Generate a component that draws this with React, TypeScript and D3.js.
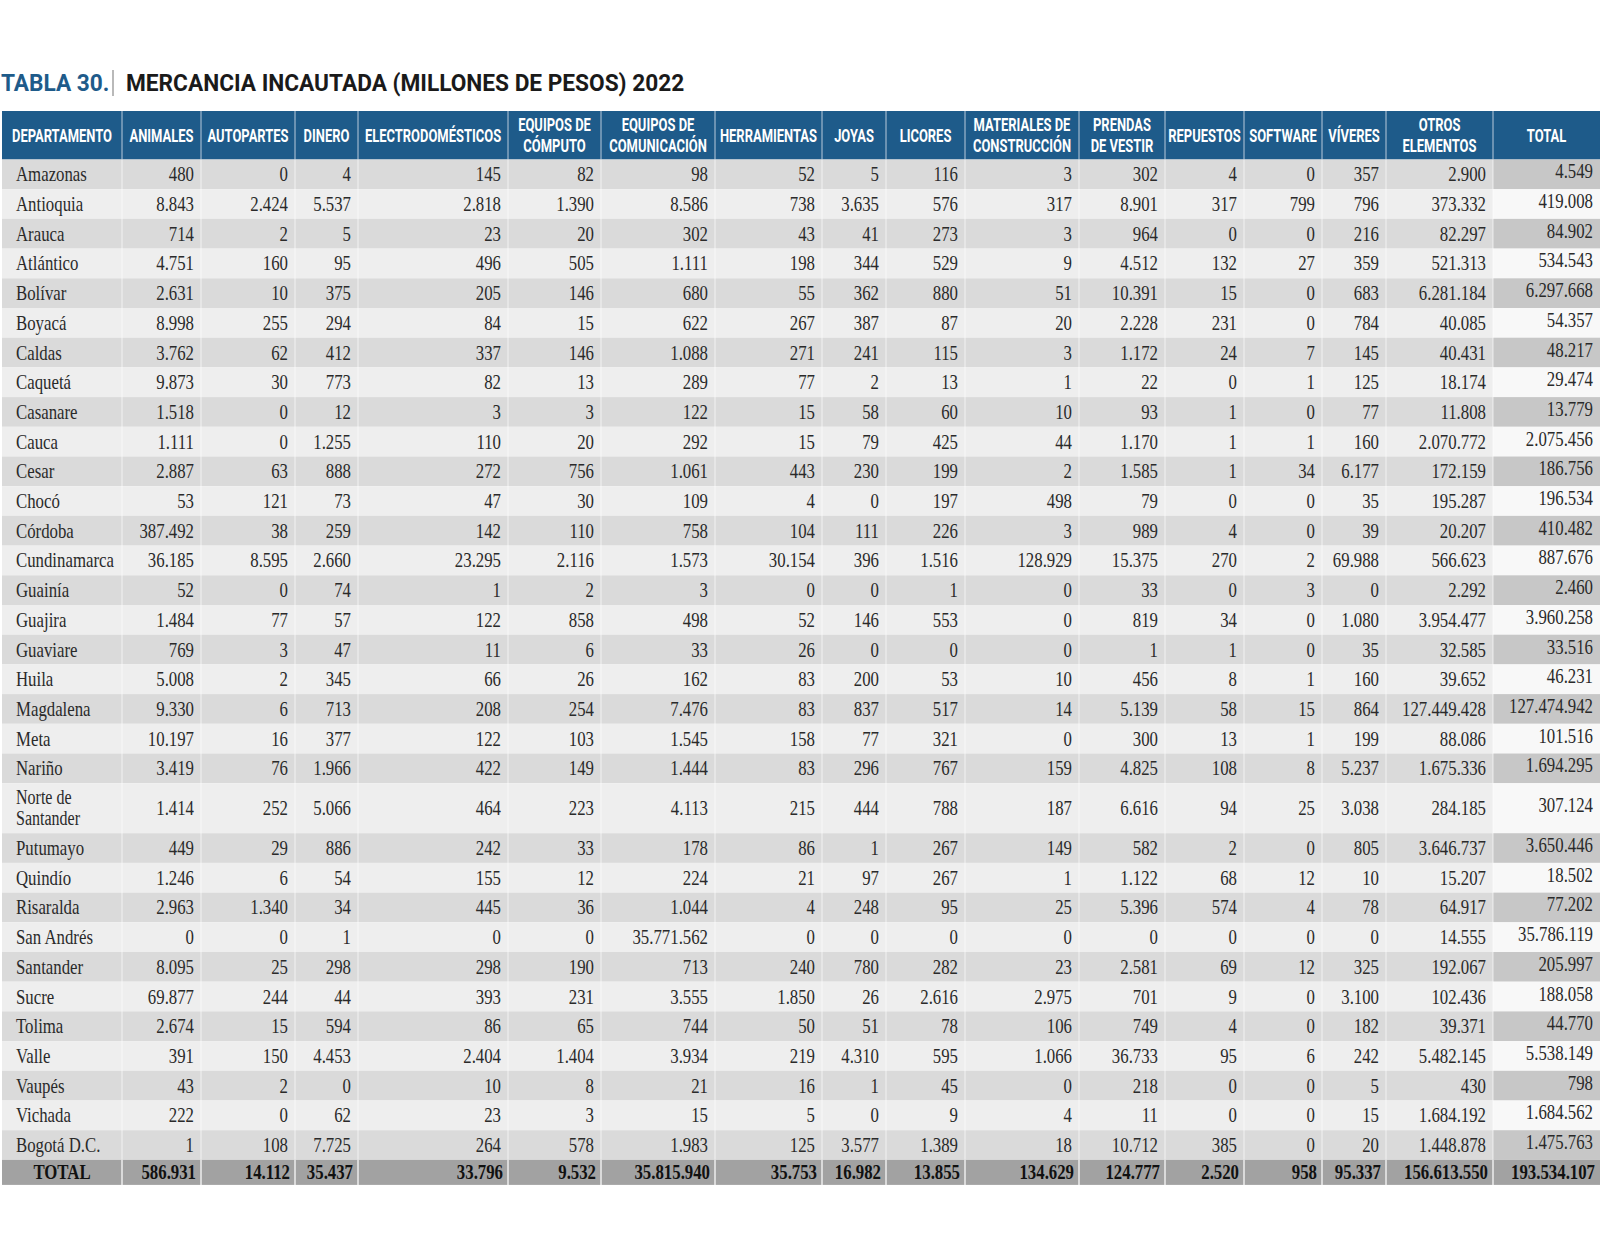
import React from "react";
import * as d3 from "d3";

const departamentos = [
  "Amazonas", "Antioquia", "Arauca", "Atlántico", "Bolívar", "Boyacá", "Caldas", "Caquetá", "Casanare", "Cauca",
  "Cesar", "Chocó", "Córdoba", "Cundinamarca", "Guainía", "Guajira", "Guaviare", "Huila", "Magdalena", "Meta",
  "Nariño", "Norte de Santander", "Putumayo", "Quindío", "Risaralda", "San Andrés", "Santander", "Sucre", "Tolima",
  "Valle", "Vaupés", "Vichada", "Bogotá D.C.",
];

const headers = [
  ["DEPARTAMENTO"], ["ANIMALES"], ["AUTOPARTES"], ["DINERO"], ["ELECTRODOMÉSTICOS"], ["EQUIPOS DE", "CÓMPUTO"],
  ["EQUIPOS DE", "COMUNICACIÓN"], ["HERRAMIENTAS"], ["JOYAS"], ["LICORES"], ["MATERIALES DE", "CONSTRUCCIÓN"],
  ["PRENDAS", "DE VESTIR"], ["REPUESTOS"], ["SOFTWARE"], ["VÍVERES"], ["OTROS", "ELEMENTOS"], ["TOTAL"],
];

const animales = [480, 8843, 714, 4751, 2631, 8998, 3762, 9873, 1518, 1111, 2887, 53, 387492, 36185, 52, 1484, 769, 5008, 9330, 10197, 3419, 1414, 449, 1246, 2963, 0, 8095, 69877, 2674, 391, 43, 222, 1];
const autopartes = [0, 2424, 2, 160, 10, 255, 62, 30, 0, 0, 63, 121, 38, 8595, 0, 77, 3, 2, 6, 16, 76, 252, 29, 6, 1340, 0, 25, 244, 15, 150, 2, 0, 108];
const dinero = [4, 5537, 5, 95, 375, 294, 412, 773, 12, 1255, 888, 73, 259, 2660, 74, 57, 47, 345, 713, 377, 1966, 5066, 886, 54, 34, 1, 298, 44, 594, 4453, 0, 62, 7725];
const electrodomesticos = [145, 2818, 23, 496, 205, 84, 337, 82, 3, 110, 272, 47, 142, 23295, 1, 122, 11, 66, 208, 122, 422, 464, 242, 155, 445, 0, 298, 393, 86, 2404, 10, 23, 264];
const equiposComputo = [82, 1390, 20, 505, 146, 15, 146, 13, 3, 20, 756, 30, 110, 2116, 2, 858, 6, 26, 254, 103, 149, 223, 33, 12, 36, 0, 190, 231, 65, 1404, 8, 3, 578];
const equiposComunicacion = [98, 8586, 302, 1111, 680, 622, 1088, 289, 122, 292, 1061, 109, 758, 1573, 3, 498, 33, 162, 7476, 1545, 1444, 4113, 178, 224, 1044, 35771562, 713, 3555, 744, 3934, 21, 15, 1983];
const herramientas = [52, 738, 43, 198, 55, 267, 271, 77, 15, 15, 443, 4, 104, 30154, 0, 52, 26, 83, 83, 158, 83, 215, 86, 21, 4, 0, 240, 1850, 50, 219, 16, 5, 125];
const joyas = [5, 3635, 41, 344, 362, 387, 241, 2, 58, 79, 230, 0, 111, 396, 0, 146, 0, 200, 837, 77, 296, 444, 1, 97, 248, 0, 780, 26, 51, 4310, 1, 0, 3577];
const licores = [116, 576, 273, 529, 880, 87, 115, 13, 60, 425, 199, 197, 226, 1516, 1, 553, 0, 53, 517, 321, 767, 788, 267, 267, 95, 0, 282, 2616, 78, 595, 45, 9, 1389];
const materiales = [3, 317, 3, 9, 51, 20, 3, 1, 10, 44, 2, 498, 3, 128929, 0, 0, 0, 10, 14, 0, 159, 187, 149, 1, 25, 0, 23, 2975, 106, 1066, 0, 4, 18];
const prendas = [302, 8901, 964, 4512, 10391, 2228, 1172, 22, 93, 1170, 1585, 79, 989, 15375, 33, 819, 1, 456, 5139, 300, 4825, 6616, 582, 1122, 5396, 0, 2581, 701, 749, 36733, 218, 11, 10712];
const repuestos = [4, 317, 0, 132, 15, 231, 24, 0, 1, 1, 1, 0, 4, 270, 0, 34, 1, 8, 58, 13, 108, 94, 2, 68, 574, 0, 69, 9, 4, 95, 0, 0, 385];
const software = [0, 799, 0, 27, 0, 0, 7, 1, 0, 1, 34, 0, 0, 2, 3, 0, 0, 1, 15, 1, 8, 25, 0, 12, 4, 0, 12, 0, 0, 6, 0, 0, 0];
const viveres = [357, 796, 216, 359, 683, 784, 145, 125, 77, 160, 6177, 35, 39, 69988, 0, 1080, 35, 160, 864, 199, 5237, 3038, 805, 10, 78, 0, 325, 3100, 182, 242, 5, 15, 20];
const otros = [2900, 373332, 82297, 521313, 6281184, 40085, 40431, 18174, 11808, 2070772, 172159, 195287, 20207, 566623, 2292, 3954477, 32585, 39652, 127449428, 88086, 1675336, 284185, 3646737, 15207, 64917, 14555, 192067, 102436, 39371, 5482145, 430, 1684192, 1448878];
const totales = [4549, 419008, 84902, 534543, 6297668, 54357, 48217, 29474, 13779, 2075456, 186756, 196534, 410482, 887676, 2460, 3960258, 33516, 46231, 127474942, 101516, 1694295, 307124, 3650446, 18502, 77202, 35786119, 205997, 188058, 44770, 5538149, 798, 1684562, 1475763];

const filaTotal = [586931, 14112, 35437, 33796, 9532, 35815940, 35753, 16982, 13855, 134629, 124777, 2520, 958, 95337, 156613550, 193534107];

const columnas = [animales, autopartes, dinero, electrodomesticos, equiposComputo, equiposComunicacion, herramientas, joyas, licores, materiales, prendas, repuestos, software, viveres, otros, totales];

// layout
const W = 1600, H = 1245;
const colEdges = [2, 122, 201, 295, 358, 508, 601, 715, 822, 886, 965, 1079, 1165, 1244, 1322, 1386, 1493, 1600];
const headerTop = 111, headerBottom = 159.5;
const rowH = 29.7, tallRowH = 50, totalRowH = 25;
const BLUE = "#1e5b8a";

const fmt = d3.formatLocale({ decimal: ",", thousands: ".", grouping: [3], currency: ["$", ""] }).format(",d");

export default function App() {
  const heights = departamentos.map((d) => (d === "Norte de Santander" ? tallRowH : rowH));
  const tops: number[] = [];
  let acc = headerBottom;
  heights.forEach((h) => { tops.push(acc); acc += h; });
  const totalTop = acc;

  const serif = "'Liberation Serif', 'Times New Roman', serif";
  const sans = "Roboto, 'Liberation Sans', sans-serif";
  const SX = 0.8;
  const HX = 0.72;

  return (
    <svg width={W} height={H} style={{ position: "absolute", left: 0, top: 0, background: "#fff" }}>
      {/* title */}
      <text transform={`translate(1,91) scale(0.945,1)`} fontFamily={sans} fontWeight={700} fontSize={24} fill={BLUE}>TABLA 30.</text>
      <line x1={113} x2={113} y1={70} y2={96} stroke="#8a8a8a" strokeWidth={1.2} />
      <text transform={`translate(126,91) scale(0.945,1)`} fontFamily={sans} fontWeight={700} fontSize={24} fill="#1a1a1a">MERCANCIA INCAUTADA (MILLONES DE PESOS) 2022</text>

      {/* header */}
      <rect x={colEdges[0]} y={headerTop} width={W - colEdges[0]} height={headerBottom - headerTop} fill={BLUE} />
      {headers.map((lines, i) => {
        const cx = (colEdges[i] + colEdges[i + 1]) / 2;
        const mid = (headerTop + headerBottom) / 2;
        const baselines = lines.length === 1 ? [mid + 6.5] : [mid - 4, mid + 17];
        return (
          <g key={"h" + i}>
            {lines.map((t, j) => (
              <text key={j} transform={`translate(${cx},${baselines[j]}) scale(${HX},1)`} textAnchor="middle"
                fontFamily={sans} fontWeight={700} fontSize={18} fill="#fff">{t}</text>
            ))}
          </g>
        );
      })}
      {colEdges.slice(1, -1).map((x, i) => (
        <line key={"hs" + i} x1={x} x2={x} y1={headerTop} y2={headerBottom} stroke="#b9cbdb" strokeWidth={1} />
      ))}

      {/* body rows */}
      {departamentos.map((dep, r) => {
        const y0 = tops[r];
        const h = heights[r];
        const dark = r % 2 === 0;
        const cy = y0 + h / 2;
        return (
          <g key={"r" + r}>
            <rect x={colEdges[0]} y={y0} width={colEdges[16] - colEdges[0]} height={h} fill={dark ? "#dadada" : "#eeeeee"} />
            <rect x={colEdges[16]} y={y0} width={W - colEdges[16]} height={h} fill={dark ? "#c7c7c7" : "#f8f8f8"} />
            {dep === "Norte de Santander" ? (
              <>
                <text transform={`translate(16,${cy - 4})  scale(${SX},1)`} fontFamily={serif} fontSize={20} fill="#2a2a2a">Norte de</text>
                <text transform={`translate(16,${cy + 17}) scale(${SX},1)`} fontFamily={serif} fontSize={20} fill="#2a2a2a">Santander</text>
              </>
            ) : (
              <text transform={`translate(16,${cy + 7}) scale(${SX},1)`} fontFamily={serif} fontSize={21} fill="#2a2a2a">{dep}</text>
            )}
            {columnas.map((col, c) => (
              <text key={c} transform={`translate(${colEdges[c + 2] - 7},${cy + 7 - (c === 15 ? 3 : 0)}) scale(${SX},1)`}
                textAnchor="end" fontFamily={serif} fontSize={21} fill="#2a2a2a">{fmt(col[r])}</text>
            ))}
          </g>
        );
      })}
      {colEdges.slice(1, -1).map((x, i) => (
        <line key={"bs" + i} x1={x} x2={x} y1={headerBottom} y2={totalTop} stroke="#ffffff" strokeOpacity={0.55} strokeWidth={1.2} />
      ))}

      {/* total row */}
      <rect x={colEdges[0]} y={totalTop} width={W - colEdges[0]} height={totalRowH} fill="#a2a2a2" />
      <text transform={`translate(${(colEdges[0] + colEdges[1]) / 2},${totalTop + totalRowH / 2 + 7}) scale(${SX},1)`} textAnchor="middle"
        fontFamily={serif} fontWeight={700} fontSize={21} fill="#111">TOTAL</text>
      {filaTotal.map((v, c) => (
        <text key={"t" + c} transform={`translate(${colEdges[c + 2] - 5},${totalTop + totalRowH / 2 + 7}) scale(${SX},1)`}
          textAnchor="end" fontFamily={serif} fontWeight={700} fontSize={21} fill="#111">{fmt(v)}</text>
      ))}
      {colEdges.slice(1, -1).map((x, i) => (
        <line key={"ts" + i} x1={x} x2={x} y1={totalTop} y2={totalTop + totalRowH} stroke="#ffffff" strokeOpacity={0.8} strokeWidth={1.5} />
      ))}
    </svg>
  );
}
